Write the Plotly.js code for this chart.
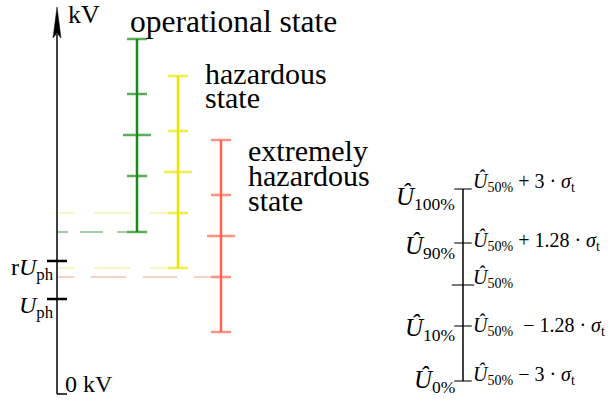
<!DOCTYPE html>
<html>
<head>
<meta charset="utf-8">
<script src="https://cdn.plot.ly/plotly-3.0.1.min.js"></script>
<style>html,body{margin:0;padding:0;background:#fff;}#chart{width:610px;height:403px;}</style>
</head>
<body>
<div id="chart"></div>
<script>
// ---- data (arbitrary kV units, 0 kV at the foot of the axis) ----
const stateNames = ['operational state', 'hazardous state', 'extremely hazardous state'];
const levelNames = ['0%', '10%', '50%', '90%', '100%'];
const operationalLevels = [162, 218, 259, 300, 355];
const hazardousLevels = [126, 181, 222, 263, 318];
const extremelyLevels = [62, 117, 158, 199, 254];
const refLevels = [133, 95];
const refLabels = ['r<i>U</i><sub>ph</sub>', '<i>U</i><sub>ph</sub>'];
const schematicLevels = [13, 68, 109, 151, 205];
const schematicLeftLabels = ['<i>Û</i><sub>0%</sub>', '<i>Û</i><sub>10%</sub>', '', '<i>Û</i><sub>90%</sub>', '<i>Û</i><sub>100%</sub>'];
const schematicRightLabels = [
  '<i>Û</i><sub>50%</sub> − 3 · <i>σ</i><sub>t</sub>',
  '<i>Û</i><sub>50%</sub>  − 1.28 · <i>σ</i><sub>t</sub>',
  '<i>Û</i><sub>50%</sub>',
  '<i>Û</i><sub>50%</sub> + 1.28 · <i>σ</i><sub>t</sub>',
  '<i>Û</i><sub>50%</sub> + 3 · <i>σ</i><sub>t</sub>'
];

// ---- layout / style ----
const serif = 'Liberation Serif';
const X = {axis: 57, op: 137, haz: 178, ext: 221, schem: 463};
const colors = {op: '#178a17', haz: '#e6e600', ext: '#ff644e'};
const dashColors = {op: '#4a9e4a', haz: '#eeee90', ext: '#f2a492'};
const capW = 14.3, midW = 20;   // line-ew marker sizes (width = 1.4*size)
const Y = py => 394 - py;      // pixel row -> axis value (for text placement)

const traces = [];
function bar(x, levels, color) {
  traces.push({x: [x, x], y: [levels[0], levels[4]], type: 'scatter', mode: 'lines',
    line: {color: color, width: 2.5}, hoverinfo: 'skip'});
  traces.push({x: levels.map(() => x), y: levels, type: 'scatter', mode: 'markers',
    marker: {symbol: 'line-ew', size: levels.map((v, i) => i === 2 ? midW : capW),
      line: {color: color, width: 2.5}}, text: levelNames, hoverinfo: 'y+text'});
}
function dashed(y, xEnd, color, dash) {
  traces.push({x: [X.axis, xEnd], y: [y, y], type: 'scatter', mode: 'lines',
    line: {color: color, width: 1.2, dash: dash}, hoverinfo: 'skip'});
}
// dashed reference levels
dashed(operationalLevels[0], X.op - 1.4 * capW / 2, dashColors.op, '11px,12px,23px,14px,11px');
dashed(hazardousLevels[1], X.haz - 1.4 * capW / 2, dashColors.haz, '18px,19px,37px,19px,18px');
dashed(hazardousLevels[0], X.haz - 1.4 * capW / 2, dashColors.haz, '18px,19px,37px,19px,18px');
dashed(extremelyLevels[1], X.ext - 1.4 * capW / 2, dashColors.ext, '17px,17px,35px,17px,34px,17px,18px');

bar(X.op, operationalLevels, colors.op);
bar(X.haz, hazardousLevels, colors.haz);
bar(X.ext, extremelyLevels, colors.ext);

// reference ticks on the kV axis
traces.push({x: refLevels.map(() => X.axis), y: refLevels, type: 'scatter', mode: 'markers',
  marker: {symbol: 'line-ew', size: 14.3, line: {color: '#000', width: 2.5}}, hoverinfo: 'y'});

// schematic
traces.push({x: [X.schem, X.schem], y: [schematicLevels[0], schematicLevels[4]], type: 'scatter', mode: 'lines',
  line: {color: '#000', width: 1.5}, hoverinfo: 'skip'});
traces.push({x: schematicLevels.map(() => X.schem), y: schematicLevels, type: 'scatter', mode: 'markers',
  marker: {symbol: 'line-ew', size: schematicLevels.map((v, i) => i === 2 ? 16 : 12.5), line: {color: '#000', width: 1.5}},
  hoverinfo: 'y'});

const annotations = [];
function txt(text, x, py, size, xanchor) {
  annotations.push({text: text, x: x, y: Y(py), xref: 'x', yref: 'y', showarrow: false,
    xanchor: xanchor || 'left', yanchor: 'middle', font: {family: serif, size: size, color: '#000'}});
}
txt('kV', 66, 14, 26);
txt('0 kV', 63, 384, 24);
txt('operational state', 128, 21, 31.5);
txt('hazardous', 203, 73, 30);
txt('state', 203, 97, 30);
txt('extremely', 246, 150, 30);
txt('hazardous', 246, 175, 30);
txt('state', 246, 200, 30);

// reference labels
const refOffsets = [8, 8];
refLevels.forEach((v, i) => {
  annotations.push({text: refLabels[i], x: 56, y: v - refOffsets[i], xref: 'x', yref: 'y', showarrow: false,
    xanchor: 'right', yanchor: 'middle', font: {family: serif, size: 24, color: '#000'}});
});
// schematic labels
const leftOff = [0, -3, 0, -4, -9];
const rightOff = [6, 0, 7, 2, 7];
schematicLevels.forEach((v, i) => {
  if (schematicLeftLabels[i]) annotations.push({text: schematicLeftLabels[i], x: 457, y: v + leftOff[i], xref: 'x', yref: 'y',
    showarrow: false, xanchor: 'right', yanchor: 'middle', font: {family: serif, size: 25, color: '#000'}});
  annotations.push({text: schematicRightLabels[i], x: 471, y: v + rightOff[i], xref: 'x', yref: 'y',
    showarrow: false, xanchor: 'left', yanchor: 'middle', font: {family: serif, size: 20, color: '#000'}});
});

const shapes = [
  {type: 'line', xref: 'x', yref: 'y', x0: X.axis, x1: X.axis, y0: 0, y1: Y(34), line: {color: '#000', width: 1.5}},
  {type: 'line', xref: 'x', yref: 'y', x0: X.axis, x1: X.axis + 10, y0: 0, y1: 0, line: {color: '#000', width: 1.5}},
  {type: 'path', xref: 'x', yref: 'y',
    path: `M ${X.axis},${Y(7)} L ${X.axis - 4},${Y(38)} L ${X.axis},${Y(33)} L ${X.axis + 4},${Y(38)} Z`,
    fillcolor: '#000', line: {color: '#000', width: 0.5}}
];

const layout = {
  width: 610, height: 403, margin: {l: 0, r: 0, t: 0, b: 0},
  paper_bgcolor: '#fff', plot_bgcolor: '#fff', showlegend: false,
  font: {family: serif},
  xaxis: {range: [0, 610], visible: false, fixedrange: true},
  yaxis: {range: [-9, 394], visible: false, fixedrange: true},
  annotations: annotations, shapes: shapes
};
Plotly.newPlot('chart', traces, layout, {displayModeBar: false, staticPlot: true});
</script>
</body>
</html>
